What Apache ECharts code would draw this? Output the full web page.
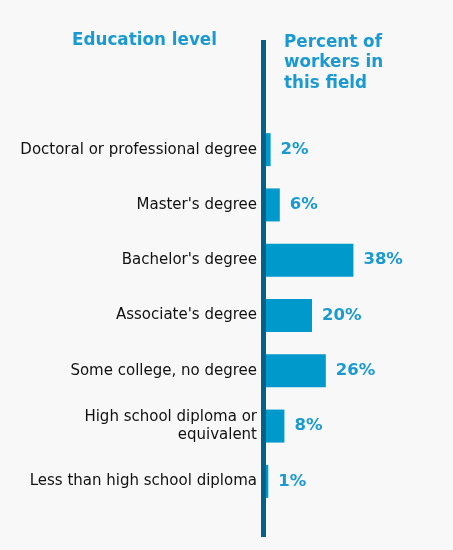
<!DOCTYPE html>
<html><head><meta charset="utf-8">
<script src="https://cdn.jsdelivr.net/npm/echarts@6/dist/echarts.min.js"></script>
<style>html,body{margin:0;padding:0;background:#f8f8f8;}#c{width:453px;height:550px;}</style>
</head><body><div id="c"></div>
<script>
const categories = ["Doctoral or professional degree","Master's degree","Bachelor's degree","Associate's degree","Some college, no degree","High school diploma or\nequivalent","Less than high school diploma"];
const values = [2, 6, 38, 20, 26, 8, 1];
const leftTitle = "Education level";
const rightTitle = "Percent of\nworkers in\nthis field";

const chart = echarts.init(document.getElementById('c'), null, {renderer:'canvas'});
chart.setOption({
  backgroundColor:'#f8f8f8',
  animation:false,
  grid:{left:266, right:95, top:122, bottom:41, containLabel:false},
  xAxis:{type:'value', min:0, max:40, show:false},
  yAxis:{type:'category', data:categories, inverse:true,
    axisLine:{show:false}, axisTick:{show:false}, splitLine:{show:false},
    axisLabel:{margin:9, color:'#111', fontFamily:'DejaVu Sans', fontSize:15, lineHeight:18, align:'right'}},
  series:[{type:'bar', data:values, barWidth:33, itemStyle:{color:'#0099cc'},
    label:{show:true, position:'right', distance:10, formatter:'{c}%', color:'#1a9ad0', fontFamily:'DejaVu Sans', fontWeight:'bold', fontSize:16.5}}],
  graphic:[
    {type:'rect', shape:{x:261, y:40, width:5, height:497}, style:{fill:'#02618a'}, z:10},
    {type:'text', left:72, top:32, style:{text:leftTitle, fill:'#1a9ad0', font:'bold 16.8px "DejaVu Sans"'}},
    {type:'text', left:284, top:32, style:{text:rightTitle, fill:'#1a9ad0', font:'bold 16.8px "DejaVu Sans"', lineHeight:20.5}}
  ]
});
</script></body></html>
